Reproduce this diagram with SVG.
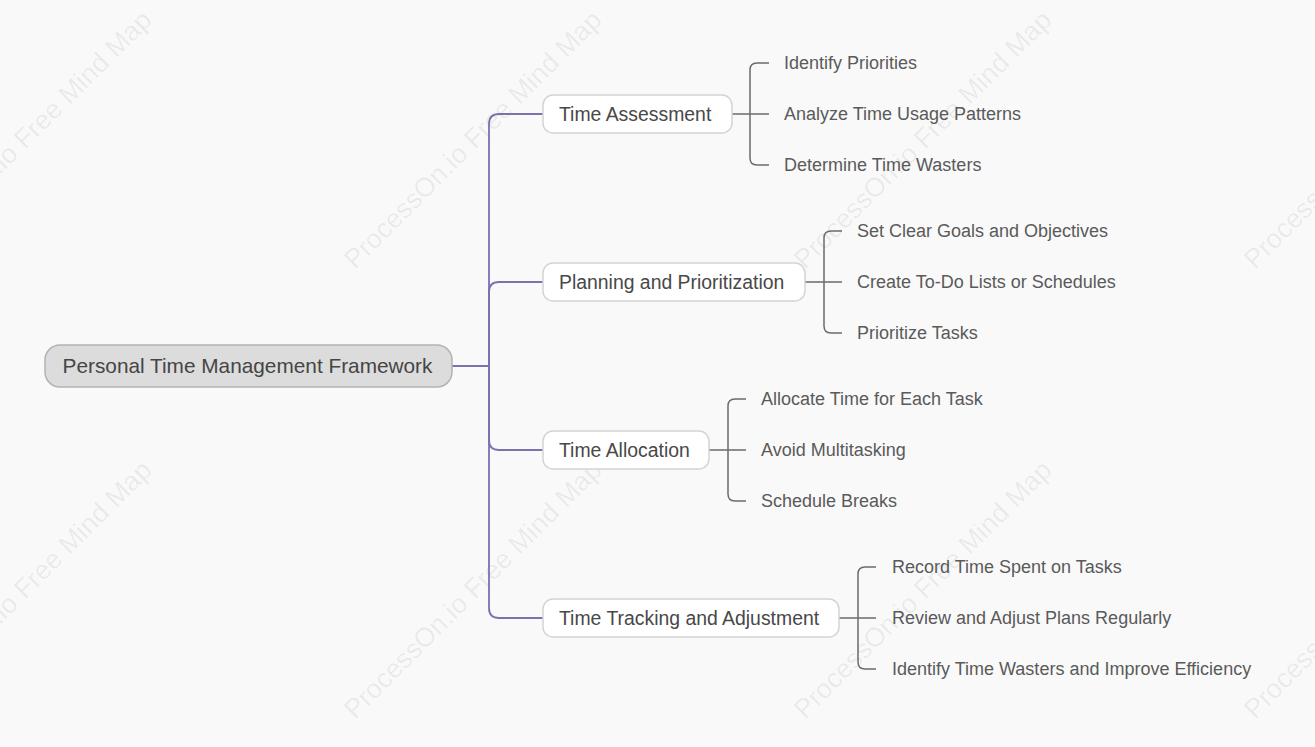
<svg xmlns="http://www.w3.org/2000/svg" width="1315" height="747" viewBox="0 0 1315 747">
<style>
.bg{fill:#f9f9f9}
.wm{font-family:"Liberation Sans",Arial,sans-serif;font-size:27px;fill:#000;fill-opacity:0.065}
.root rect{fill:#dcdcdc;stroke:#b3b3b3;stroke-width:1.5}
.root text{font-family:"Liberation Sans",Arial,sans-serif;font-size:20.8px;fill:#454545}
.l1 rect{fill:#ffffff;stroke:#d4d4d4;stroke-width:1.5}
.l1 text{font-family:"Liberation Sans",Arial,sans-serif;font-size:19.4px;fill:#484848}
.leaf text{font-family:"Liberation Sans",Arial,sans-serif;font-size:18px;fill:#5a5a5a}
.trunk{fill:none;stroke:#7b71b0;stroke-width:1.8}
.br{fill:none;stroke:#6e6a6a;stroke-width:1.5}
</style>
<rect class="bg" x="0" y="0" width="1315" height="747"/>
<g id="watermarks">
<text class="wm" transform="translate(-95,270) rotate(-45)">ProcessOn.io Free Mind Map</text>
<text class="wm" transform="translate(355,270) rotate(-45)">ProcessOn.io Free Mind Map</text>
<text class="wm" transform="translate(805,270) rotate(-45)">ProcessOn.io Free Mind Map</text>
<text class="wm" transform="translate(1255,270) rotate(-45)">ProcessOn.io Free Mind Map</text>
<text class="wm" transform="translate(-95,720) rotate(-45)">ProcessOn.io Free Mind Map</text>
<text class="wm" transform="translate(355,720) rotate(-45)">ProcessOn.io Free Mind Map</text>
<text class="wm" transform="translate(805,720) rotate(-45)">ProcessOn.io Free Mind Map</text>
<text class="wm" transform="translate(1255,720) rotate(-45)">ProcessOn.io Free Mind Map</text>
</g>
<g id="connectors">
<path class="trunk" d="M452 366 H489 V124 Q489 114 499 114 H543"/>
<path class="trunk" d="M452 366 H489 V292 Q489 282 499 282 H543"/>
<path class="trunk" d="M452 366 H489 V440 Q489 450 499 450 H543"/>
<path class="trunk" d="M452 366 H489 V608 Q489 618 499 618 H543"/>
<path class="br" d="M732 114 H769 M769 63 H757 Q750 63 750 70 V158 Q750 165 757 165 H769"/>
<path class="br" d="M805 282 H842 M842 231 H831 Q824 231 824 238 V326 Q824 333 831 333 H842"/>
<path class="br" d="M709 450 H746 M746 399 H735 Q728 399 728 406 V494 Q728 501 735 501 H746"/>
<path class="br" d="M839 618 H876 M876 567 H865 Q858 567 858 574 V662 Q858 669 865 669 H876"/>
</g>
<g id="root" class="root">
<rect x="45" y="345" width="407" height="42" rx="15"/>
<text x="247.5" y="373" text-anchor="middle">Personal Time Management Framework</text>
</g>
<g id="n-time-assessment" class="l1">
<rect x="543" y="95" width="189" height="38" rx="10"/>
<text x="559" y="121">Time Assessment</text>
</g>
<g id="n-planning" class="l1">
<rect x="543" y="263" width="262" height="38" rx="10"/>
<text x="559" y="289">Planning and Prioritization</text>
</g>
<g id="n-allocation" class="l1">
<rect x="543" y="431" width="166" height="38" rx="10"/>
<text x="559" y="457">Time Allocation</text>
</g>
<g id="n-tracking" class="l1">
<rect x="543" y="599" width="296" height="38" rx="10"/>
<text x="559" y="625">Time Tracking and Adjustment</text>
</g>
<g id="leaves-assessment" class="leaf">
<text x="784" y="68.5">Identify Priorities</text>
<text x="784" y="119.5">Analyze Time Usage Patterns</text>
<text x="784" y="170.5">Determine Time Wasters</text>
</g>
<g id="leaves-planning" class="leaf">
<text x="857" y="236.5">Set Clear Goals and Objectives</text>
<text x="857" y="287.5">Create To-Do Lists or Schedules</text>
<text x="857" y="338.5">Prioritize Tasks</text>
</g>
<g id="leaves-allocation" class="leaf">
<text x="761" y="404.5">Allocate Time for Each Task</text>
<text x="761" y="455.5">Avoid Multitasking</text>
<text x="761" y="506.5">Schedule Breaks</text>
</g>
<g id="leaves-tracking" class="leaf">
<text x="892" y="572.5">Record Time Spent on Tasks</text>
<text x="892" y="623.5">Review and Adjust Plans Regularly</text>
<text x="892" y="674.5">Identify Time Wasters and Improve Efficiency</text>
</g>
</svg>
